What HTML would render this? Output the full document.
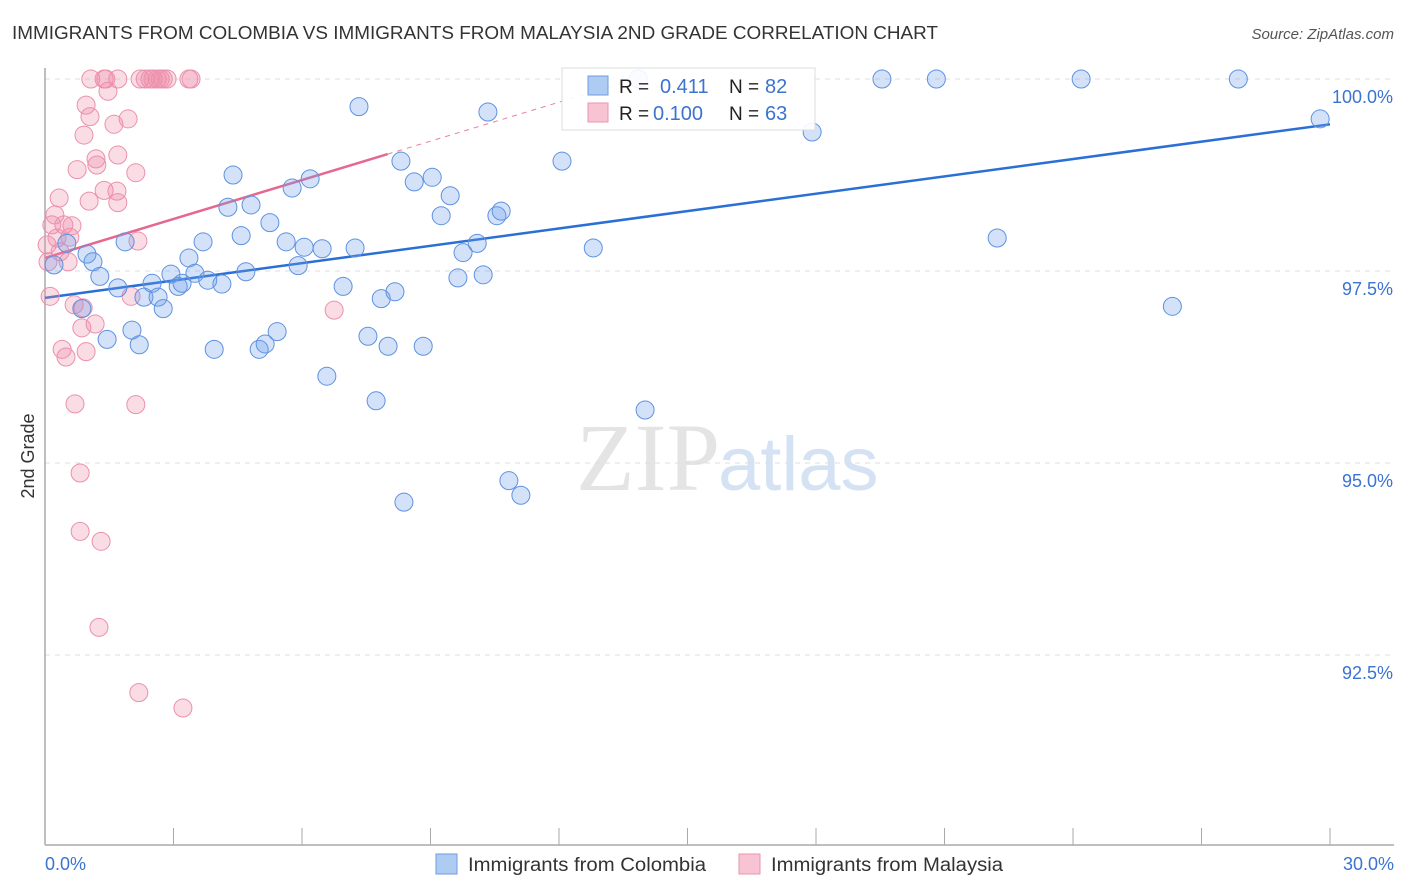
<!DOCTYPE html>
<html><head><meta charset="utf-8"><style>
body{margin:0;background:#fff;font-family:"Liberation Sans",sans-serif;}
#wrap{position:relative;width:1406px;height:892px;overflow:hidden;}
</style></head><body>
<div id="wrap">
<svg id="chart" width="1406" height="892" xmlns="http://www.w3.org/2000/svg">
<text x="12" y="39" font-size="18" fill="#333" textLength="926" lengthAdjust="spacingAndGlyphs">IMMIGRANTS FROM COLOMBIA VS IMMIGRANTS FROM MALAYSIA 2ND GRADE CORRELATION CHART</text>
<text x="1394" y="39" font-size="15" fill="#555" font-style="italic" text-anchor="end">Source: ZipAtlas.com</text>
<text x="720" y="490" font-size="96" fill="#e4e4e4" text-anchor="end" font-family="Liberation Serif,serif">ZIP</text>
<text x="718" y="490" font-size="76" fill="#d4e2f4">atlas</text>
<text transform="translate(34,456) rotate(-90)" font-size="18" fill="#333" text-anchor="middle">2nd Grade</text>
<g id="grid"></g><g id="axes"></g><g id="trends"></g><g id="pts"></g>
<g>
<rect x="562" y="68" width="253" height="62" fill="#fff" fill-opacity="0.9" stroke="#ddd"/>
<rect x="588" y="76" width="20" height="19" fill="#aecbf2" stroke="#6d9de0"/>
<rect x="588" y="103" width="20" height="19" fill="#f8c4d4" stroke="#eb95b0"/>
<text x="619" y="93" font-size="19" fill="#222">R = </text><text x="660" y="93" font-size="20" fill="#3b73d1">0.411</text>
<text x="729" y="93" font-size="19" fill="#222">N = </text><text x="765" y="93" font-size="20" fill="#3b73d1">82</text>
<text x="619" y="120" font-size="19" fill="#222">R = </text><text x="653" y="120" font-size="20" fill="#3b73d1">0.100</text>
<text x="729" y="120" font-size="19" fill="#222">N = </text><text x="765" y="120" font-size="20" fill="#3b73d1">63</text>
</g>
<g>
<rect x="436" y="854" width="21" height="20" fill="#aecbf2" stroke="#6d9de0"/>
<text x="468" y="871" font-size="19" fill="#333" textLength="238" lengthAdjust="spacingAndGlyphs">Immigrants from Colombia</text>
<rect x="739" y="854" width="21" height="20" fill="#f8c4d4" stroke="#eb95b0"/>
<text x="771" y="871" font-size="19" fill="#333" textLength="232" lengthAdjust="spacingAndGlyphs">Immigrants from Malaysia</text>
</g>
</svg></div>
<script>
const yTicks=[100,97.5,95,92.5];
const yTickLabels=["100.0%","97.5%","95.0%","92.5%"];
const xTickVals=[0,3,6,9,12,15,18,21,24,27,30];
const colX=[0.21,0.51,0.98,0.86,1.12,1.28,1.45,1.70,1.87,2.03,2.20,2.31,2.50,2.64,2.76,2.94,3.11,3.20,3.36,3.50,3.69,3.80,3.95,4.13,4.27,4.39,4.58,4.69,4.81,5.00,5.14,5.25,5.42,5.63,5.77,5.91,6.05,6.19,6.47,6.58,6.96,7.24,7.33,7.54,7.73,7.85,8.01,8.17,8.31,8.38,8.62,8.83,9.04,9.25,9.46,9.64,9.76,10.09,10.23,10.34,10.55,10.65,10.83,11.11,12.07,12.80,14.01,17.91,19.54,20.81,22.23,24.19,26.32,27.86,29.77,13.85];
const colY=[97.58,97.86,97.72,97.01,97.62,97.43,96.61,97.28,97.88,96.73,96.54,97.16,97.34,97.16,97.01,97.46,97.30,97.34,97.67,97.47,97.88,97.38,96.48,97.33,98.33,98.75,97.96,97.49,98.36,96.48,96.55,98.13,96.71,97.88,98.58,97.57,97.81,98.70,97.79,96.13,97.30,97.80,99.64,96.65,95.81,97.14,96.52,97.23,98.93,94.49,98.66,96.52,98.72,98.22,98.48,97.41,97.74,97.86,97.45,99.57,98.22,98.28,94.77,94.58,98.93,97.80,95.69,99.31,100,100,97.93,100,97.04,100,99.48,100];
const malX=[0.05,0.07,0.12,0.16,0.23,0.28,0.33,0.35,0.40,0.44,0.49,0.54,0.58,0.63,0.68,0.70,0.75,0.82,0.82,0.86,0.89,0.91,0.96,0.96,1.03,1.05,1.07,1.17,1.19,1.21,1.26,1.31,1.38,1.42,1.47,1.61,1.68,1.70,1.70,1.70,1.94,2.01,2.12,2.12,2.19,2.17,2.22,2.34,2.45,2.52,2.62,2.69,2.76,2.85,3.22,3.36,3.41,6.75,1.38];
const malY=[97.84,97.62,97.17,98.10,98.23,97.93,98.45,97.75,96.48,98.10,96.38,97.62,97.94,98.09,97.06,95.77,98.82,94.87,94.11,96.76,97.02,99.27,96.45,99.66,98.41,99.51,100,96.81,98.96,98.88,92.86,93.98,98.55,100,99.84,99.41,98.54,98.39,99.01,100,99.48,97.17,95.76,98.78,92.01,97.89,100,100,100,100,100,100,100,100,91.81,100,100,96.99,100];
const colTrend=[97.15,99.41];   // value at x=0 and x=30
const malTrend=[97.67,0.169];   // intercept, slope per %
const X=v=>45+v/30*1285, Y=v=>79+(100-v)/2.5*192;
const NS="http://www.w3.org/2000/svg";
function mk(tag,attrs,parent){const e=document.createElementNS(NS,tag);for(const k in attrs)e.setAttribute(k,attrs[k]);document.getElementById(parent).appendChild(e);return e;}
yTicks.forEach((t,i)=>{
 const l=mk('line',{x1:45,x2:1394,y1:Y(t),y2:Y(t),stroke:'#ddd','stroke-dasharray':'5,5'},'grid');
 
 
 const tx=mk('text',{x:1393,y:Y(t)+24,'font-size':18,fill:'#3b73d1','text-anchor':'end'},'grid');
 tx.textContent=yTickLabels[i];
 
 
});
const ya=mk('line',{x1:45,x2:45,y1:68,y2:845,stroke:'#aaa','stroke-width':1.5},'axes');


const xa=mk('line',{x1:45,x2:1394,y1:845,y2:845,stroke:'#aaa','stroke-width':1.5},'axes');


xTickVals.forEach(v=>{const t=mk('line',{x1:X(v),x2:X(v),y1:828,y2:845,stroke:'#aaa'},'axes');
 
 });
const xl0=mk('text',{x:45,y:870,'font-size':18,fill:'#3b73d1'},'axes');xl0.textContent='0.0%';


const xl1=mk('text',{x:1394,y:870,'font-size':18,fill:'#3b73d1','text-anchor':'end'},'axes');xl1.textContent='30.0%';


malX.forEach((x,i)=>{const c=mk('circle',{cx:X(x),cy:Y(malY[i]),r:9,fill:'rgba(240,140,170,0.3)',stroke:'#ec90ad','stroke-width':1},'pts');
 
 });
colX.forEach((x,i)=>{const c=mk('circle',{cx:X(x),cy:Y(colY[i]),r:9,fill:'rgba(110,160,235,0.3)',stroke:'#5e92e0','stroke-width':1},'pts');
 
 });
const ct=mk('line',{x1:X(0),y1:Y(colTrend[0]),x2:X(30),y2:Y(colTrend[1]),stroke:'#2a6fd6','stroke-width':2.5},'trends');


const mEnd=(100-malTrend[0])/malTrend[1];
const md=mk('line',{x1:X(8),y1:Y(malTrend[0]+8*malTrend[1]),x2:X(mEnd),y2:Y(100),stroke:'#e8809f','stroke-width':1,'stroke-dasharray':'5,5'},'trends');


const ms=mk('line',{x1:X(0),y1:Y(malTrend[0]),x2:X(8),y2:Y(malTrend[0]+8*malTrend[1]),stroke:'#e5688f','stroke-width':2.5},'trends');


</script>
</body></html>
